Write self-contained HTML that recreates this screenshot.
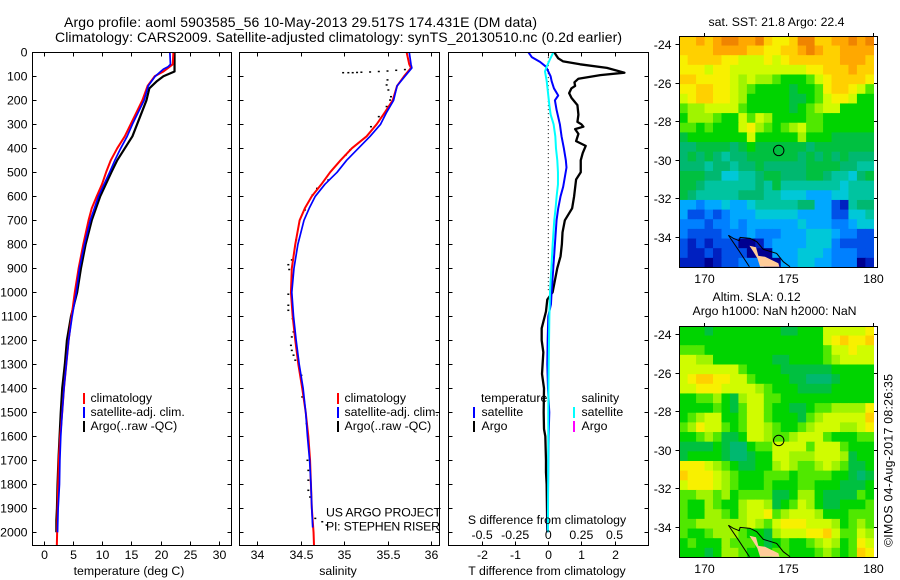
<!DOCTYPE html>
<html lang="en">
<head>
<meta charset="utf-8">
<title>Argo profile comparison</title>
<style>
html,body{margin:0;padding:0;background:#fff;}
svg{display:block;}
text{font-family:"Liberation Sans",sans-serif;font-size:12.3px;fill:#000;}
.title{font-size:14px;}
.mid{text-anchor:middle;}
.end{text-anchor:end;}
</style>
</head>
<body>
<svg id="chart" xmlns="http://www.w3.org/2000/svg" width="900" height="580" viewBox="0 0 900 580">
  <defs>
    <clipPath id="clip-sst"><rect x="679" y="36" width="195" height="231"/></clipPath>
    <clipPath id="clip-sla"><rect x="679" y="326" width="195" height="231"/></clipPath>
    <clipPath id="clip-temp"><rect x="32" y="52" width="200" height="494"/></clipPath>
    <clipPath id="clip-sal"><rect x="239" y="52" width="201" height="494"/></clipPath>
    <clipPath id="clip-diff"><rect x="448" y="52" width="201" height="494"/></clipPath>
  </defs>

  <text class="title" x="64" y="27" textLength="473">Argo profile: aoml 5903585_56 10-May-2013 29.517S 174.431E (DM data)</text>
  <text class="title" x="55" y="42" textLength="567">Climatology: CARS2009. Satellite-adjusted climatology: synTS_20130510.nc (0.2d earlier)</text>

  <g id="heatmaps"></g>
  <g id="plots"></g>
  <g id="axes"></g>

  <text class="mid" x="129" y="575">temperature (deg C)</text>
  <text class="mid" x="338" y="575">salinity</text>
  <text class="mid" x="547" y="575">T difference from climatology</text>
  <text class="mid" x="547" y="524">S difference from climatology</text>

  <g>
    <rect x="83" y="393" width="2" height="11" fill="#f00"/>
    <text x="90.5" y="402">climatology</text>
    <rect x="83" y="407" width="2" height="11" fill="#00f"/>
    <text x="90.5" y="416">satellite-adj. clim.</text>
    <rect x="83" y="421" width="2" height="11" fill="#000"/>
    <text x="90.5" y="430">Argo(..raw -QC)</text>
  </g>
  <g>
    <rect x="337" y="393" width="2" height="11" fill="#f00"/>
    <text x="344.5" y="402">climatology</text>
    <rect x="337" y="407" width="2" height="11" fill="#00f"/>
    <text x="344.5" y="416">satellite-adj. clim.</text>
    <rect x="337" y="421" width="2" height="11" fill="#000"/>
    <text x="344.5" y="430">Argo(..raw -QC)</text>
  </g>
  <g>
    <text x="481" y="402">temperature</text>
    <rect x="473" y="407" width="2" height="11" fill="#00f"/>
    <text x="481.5" y="416">satellite</text>
    <rect x="473" y="421" width="2" height="11" fill="#000"/>
    <text x="481.5" y="430">Argo</text>
    <text x="581.5" y="402">salinity</text>
    <rect x="573" y="407" width="2" height="11" fill="#0ff"/>
    <text x="581.5" y="416">satellite</text>
    <rect x="573" y="421" width="2" height="11" fill="#f0f"/>
    <text x="581.5" y="430">Argo</text>
  </g>

  <text x="326" y="516.5" textLength="115">US ARGO PROJECT</text>
  <text x="326" y="530.5" textLength="114">PI: STEPHEN RISER</text>

  <text class="mid" x="776.5" y="26">sat. SST: 21.8  Argo: 22.4</text>
  <text x="712.5" y="301">Altim. SLA: 0.12</text>
  <text x="692.5" y="315">Argo h1000: NaN h2000: NaN</text>
  <text transform="translate(892.5 547) rotate(-90)" textLength="173">©IMOS 04-Aug-2017 08:26:35</text>
</svg>

<script>
/* ---------- temperature profile data ---------- */
const tempArgoDepths = [0,80,100,120,150,200,250,300,350,400,450,500,600,700,800,900,1000,1100,1200,1300,1400,1500,1600,1700,1800,1900,1950,2000];
const tempArgo = [22.4,22.4,20.5,19.4,18.1,17.6,16.8,16,15.2,13.9,12.6,11.6,9.7,8.25,7.2,6.4,5.75,4.7,4,3.65,3.2,2.95,2.75,2.55,2.4,2.3,2.2,2.2];
const tempClimDepths = [0,50,65,80,100,140,200,250,300,350,400,450,500,550,600,650,700,800,900,1000,1100,1200,1300,1400,1500,1600,1700,1800,1900,2000,2054];
const tempClim = [22.2,22.1,21.3,20.5,19,17.8,16.9,15.9,14.9,13.9,12.6,11.5,10.7,10,9.1,8.25,7.7,6.8,6,5.35,4.8,4.3,3.9,3.5,3.2,2.85,2.6,2.5,2.4,2.33,2.28];
const tempSatDepths = [0,50,60,70,100,140,200,250,300,350,400,450,500,600,700,800,900,1000,1100,1200,1300,1400,1500,1600,1700,1800,1900,2000];
const tempSat = [21.6,21.7,21.3,20.5,19.1,17.9,17.2,16.2,15.2,14.3,13.2,12.2,11.3,9.4,8,7,6.15,5.6,4.9,4.3,3.9,3.5,3.2,2.95,2.8,2.73,2.5,2.4];

/* ---------- salinity profile data ---------- */
const salClimDepths = [0,50,65,100,140,200,250,300,350,400,450,500,550,600,650,700,800,900,1000,1100,1200,1300,1400,1500,1600,1700,1800,1900,2000,2054];
const salClim = [35.72,35.75,35.77,35.69,35.61,35.56,35.47,35.375,35.26,35.09,34.96,34.84,34.74,34.63,34.55,34.49,34.44,34.4,34.39,34.41,34.44,34.475,34.52,34.56,34.59,34.61,34.62,34.63,34.65,34.655];
const salSatDepths = [0,50,65,100,140,200,250,300,350,400,450,500,550,600,650,700,800,900,1000,1100,1200,1300,1400,1500,1600,1700,1800,1900,1980];
const salSat = [35.75,35.77,35.78,35.7,35.61,35.57,35.49,35.42,35.3,35.165,35.03,34.92,34.78,34.67,34.6,34.54,34.47,34.425,34.4,34.42,34.45,34.485,34.53,34.56,34.58,34.605,34.62,34.63,34.64];
const salArgoDepths = [85,85,85,84,83,82,80,78,75,72,115,136,157,185,199,226,268,310,407,428,532,567,594,657,782,865,885,905,1008,1054,1075,1110,1165,1186,1221,1242,1262,1283,1304,1346,1394,1436,1547,1700,1742,1783,1825,1853,1942,1956,1970];
const salArgo = [34.99,35.05,35.1,35.15,35.2,35.3,35.4,35.5,35.6,35.7,35.5,35.49,35.51,35.54,35.53,35.49,35.4,35.31,35.07,35.02,34.82,34.69,34.64,34.55,34.45,34.4,34.36,34.37,34.36,34.36,34.36,34.41,34.42,34.4,34.39,34.4,34.42,34.44,34.48,34.51,34.52,34.52,34.57,34.58,34.59,34.59,34.59,34.61,34.67,34.75,34.8];

/* ---------- difference profile data ---------- */
const diffTArgoDepths = [0,15,25,38,50,65,85,95,110,125,140,150,170,190,220,260,290,300,310,320,340,370,390,420,450,500,530,600,650,700,750,800,850,900,950,1000,1030,1080,1150,1200,1250,1340,1400,1500,1570,1600,1700,1750,1800,1900,2000];
const diffTArgo = [0.18,0.25,0.3,0.45,0.96,1.77,2.3,1.57,0.91,0.79,0.81,0.7,0.63,0.7,0.88,0.91,0.88,1,1.06,0.81,0.91,0.84,1.13,1.04,0.98,0.98,0.84,0.78,0.72,0.5,0.43,0.41,0.37,0.27,0.2,0.13,-0.03,-0.07,-0.2,-0.2,-0.15,-0.19,-0.13,-0.14,-0.13,-0.09,-0.07,-0.07,-0.05,-0.04,-0.03];
const diffTSatDepths = [0,20,40,60,100,120,150,180,200,240,300,350,400,450,480,520,560,600,650,700,800,900,1000,1050,1100,1200,1300,1400,1500,1600,1700,2000];
const diffTSat = [-0.6,-0.5,-0.25,-0.07,0.07,0.1,0.17,0.3,0.2,0.25,0.35,0.4,0.47,0.53,0.55,0.5,0.45,0.37,0.3,0.25,0.2,0.15,0.1,0.08,0,-0.02,-0.03,-0.01,0.03,0.01,0,-0.02];
const diffSSatDepths = [0,15,30,60,80,120,180,220,260,300,350,400,450,500,550,600,650,700,800,900,1000,1100,1300,1500,1700,2000];
const diffSSat = [0.038,0.025,0.012,-0.012,-0.025,-0.012,0,0.008,0.018,0.04,0.053,0.058,0.068,0.073,0.073,0.063,0.055,0.045,0.033,0.023,0.013,0.008,0.003,0,0,-0.003];
const diffZeroDepths = [20,1000];
const diffZero = [0,0];

/* ---------- tick values and labels ---------- */
const depthTicks = [0,100,200,300,400,500,600,700,800,900,1000,1100,1200,1300,1400,1500,1600,1700,1800,1900,2000];
const tempTicks = [0,5,10,15,20,25,30];
const salTicks = [34,34.5,35,35.5,36];
const salTickLabels = ['34','34.5','35','35.5','36'];
const diffTTicks = [-2,-1,0,1,2];
const diffTTickLabels = ['-2','-1','0','1','2'];
const diffSTicks = [-0.5,-0.25,0,0.25,0.5];
const diffSTickLabels = ['-0.5','-0.25','0','0.25','0.5'];
const latTicks = [-24,-26,-28,-30,-32,-34];
const lonTicks = [170,175,180];

/* ---------- profile location ---------- */
const argoLon = [174.431];
const argoLat = [-29.517];

/* ---------- map level grids: one char per 0.5 degree cell, north to south ---------- */
const levelChars = '0123456789abcdefg';
const sstGrid = [
 'eefef ggffg eddeg geeff gfg',
 'eeeef fffee ddeef gfeef fff',
 'deeee ddccc dcdee eeeef ffe',
 'dddcd dcccc ccccc ddeee fee',
 'eeddd dcbcb ba999 acdee eed',
 'ddeed dcba9 99989 9adee dca',
 'cdeed dcb99 99988 9acdd c99',
 'abbcc cca99 99989 abcc9 999',
 '9bbba 99cac b9999 aa999 999',
 'aa9a9 99cdb a9abc aa999 999',
 '89999 999c9 9999b 99988 888',
 '77888 87898 88888 78888 888',
 '78787 67788 88887 87878 777',
 '77767 76778 77777 88887 766',
 '88877 55667 88777 88766 578',
 '88766 66667 68666 66665 666',
 '87666 66777 66555 44455 666',
 '44344 54456 66667 74421 677',
 '42232 34445 55554 44422 556',
 '33323 34344 44445 44433 455',
 '32222 33343 33444 55543 322',
 '21212 22001 34444 55532 222',
 '21121 22200 04445 55433 322',
 '11101 22333 00445 54433 301'
];
const slaGrid = [
 '99989 99999 99889 99ccc ccd',
 '99999 99999 99999 99cde dde',
 'aaa99 99999 99999 99acc dcc',
 'ccbb9 99999 98899 99abc ccc',
 'ccccc cca99 99888 88899 999',
 'cdeed dcca9 99988 77789 999',
 'ccddd ccccb a9998 88899 999',
 '99aab 98bcc aa999 99999 999',
 '9999a 98acc a9988 9aabb bbd',
 '9abcc 99acc a9998 abccc cce',
 'abdcc a9acc ba99a bcccb bcd',
 '99aba 889cc baabc cca99 9aa',
 '88889 8779a acccc accca 999',
 '89999 87789 9ccbb bcccb 899',
 'dddcb a9889 9bcba abcba 889',
 'edddc ba999 aaa9a aaa99 878',
 'cdddc ba999 a999a a9998 889',
 'aabba b9aaa a889b b9888 8a9',
 'a99ba 99bcc b89ac b9889 99a',
 'a99bb a9bcc dabcc cb999 aaa',
 'aabbb bbbcb acddd cccb9 aba',
 'a99ab bba99 8bccc ddeca acb',
 '9a999 baaa9 89a99 abcb9 adc',
 '99989 bba99 9aa99 9aba9 aed'
];
const gridLonStart = [168.55];
const gridLatStart = [-23.58];
const gridStepDeg = [0.5];

/* ---------- coastline ---------- */
const coastNorthLon = [171.46,171.75,172.1,172.15,172.74,173.13,173.52,174.31,174.7,175.1];
const coastNorthLat = [-33.91,-34.07,-34.19,-34.02,-34.07,-34.24,-34.64,-34.85,-35.28,-35.54];
const coastWestLon = [171.46,172.05,172.7];
const coastWestLat = [-33.91,-34.67,-35.54];
const landLon = [172.7,173.09,173.23,173.62,174.41,174.47,173.33,173.17,172.93];
const landLat = [-34.45,-34.53,-34.98,-35.02,-35.36,-35.54,-35.54,-35.1,-34.76];

/* ---------- styling (not data) ---------- */
const paletteColors = ['#000090','#0020c0','#0050e8','#0080ff','#00a8ff','#00c8d8','#00c4a0','#00b870','#00c040','#00d400','#50e800','#a0f400','#d0fc00','#f8f000','#ffd000','#ffa800','#f08400'];

/* ---------- axis functions ---------- */
const PLOT_TOP = 52.5, PLOT_BOTTOM = 545.5;
function depthY(d){ return 52.3 + d * 0.24; }
function tempX(v){ return 43.5 + v * 5.85; }
function salX(v){ return 257 + (v - 34) * 87; }
function diffTX(v){ return 548.3 + v * 33.1; }
function diffSX(v){ return 548.3 + v * 132.4; }
function lonX(lon){ return 703.7 + (lon - 170) * 16.93; }
function latY(lat, mapTop){ return mapTop + 8 + (-24 - lat) * 19.3; }

const SVG_NS = 'http://www.w3.org/2000/svg';
const heatLayer = document.getElementById('heatmaps');
const plotLayer = document.getElementById('plots');
const axisLayer = document.getElementById('axes');

function make(tag, attrs, parent){
  const node = document.createElementNS(SVG_NS, tag);
  Object.keys(attrs).forEach(function(k){ node.setAttribute(k, attrs[k]); });
  parent.appendChild(node);
  return node;
}
function linePoints(xs, ys){
  return xs.map(function(x, i){ return x.toFixed(2) + ',' + ys[i].toFixed(2); }).join(' ');
}
function profileLine(values, depths, xFn, color, width, clip, dash){
  const attrs = {
    points: linePoints(values.map(xFn), depths.map(depthY)),
    fill: 'none', stroke: color, 'stroke-width': width,
    'clip-path': 'url(#' + clip + ')', 'stroke-linejoin': 'round'
  };
  if (dash) attrs['stroke-dasharray'] = dash;
  return make('polyline', attrs, plotLayer);
}
function tickLine(x1, y1, x2, y2){
  return make('line', {x1:x1, y1:y1, x2:x2, y2:y2, stroke:'#000', 'stroke-width':1, 'shape-rendering':'crispEdges'}, axisLayer);
}
function label(x, y, str, cls){
  const t = make('text', {x:x, y:y, 'class':cls}, axisLayer);
  t.textContent = str;
  return t;
}

/* ---------- heatmaps ---------- */
function drawGrid(grid, mapTop, clip, group){
  grid.forEach(function(row, r){
    const cells = row.replace(/ /g, '');
    for (let c = 0; c < cells.length; c++){
      const lon0 = gridLonStart[0] + c * gridStepDeg[0];
      const lat0 = gridLatStart[0] - r * gridStepDeg[0];
      const x0 = lonX(lon0), x1 = lonX(lon0 + gridStepDeg[0]);
      const y0 = latY(lat0, mapTop), y1 = latY(lat0 - gridStepDeg[0], mapTop);
      const cell = make('rect', {
        x:x0.toFixed(2), y:y0.toFixed(2),
        width:(x1 - x0 + 0.6).toFixed(2), height:(y1 - y0 + 0.6).toFixed(2),
        fill:paletteColors[levelChars.indexOf(cells[c])],
        'clip-path':'url(#' + clip + ')'
      }, group);
      
      
    }
  });
}
function drawOverlay(mapTop, clip, group){
  const yOf = function(lat){ return latY(lat, mapTop); };
  const land = make('polygon', {points:linePoints(landLon.map(lonX), landLat.map(yOf)), fill:'#ffcc99', 'clip-path':'url(#' + clip + ')'}, group);
  
  
  const north = make('polyline', {points:linePoints(coastNorthLon.map(lonX), coastNorthLat.map(yOf)), fill:'none', stroke:'#000', 'stroke-width':1, 'clip-path':'url(#' + clip + ')'}, group);
  
  
  const west = make('polyline', {points:linePoints(coastWestLon.map(lonX), coastWestLat.map(yOf)), fill:'none', stroke:'#000', 'stroke-width':1, 'clip-path':'url(#' + clip + ')'}, group);
  
  
  const marker = make('circle', {cx:lonX(argoLon[0]), cy:yOf(argoLat[0]), r:5.2, fill:'none', stroke:'#000', 'stroke-width':1}, group);
  
  
}
function drawMapFrame(mapTop){
  const frame = make('rect', {x:679.5, y:mapTop + 0.5, width:198, height:231, fill:'none', stroke:'#000', 'stroke-width':1, 'shape-rendering':'crispEdges'}, axisLayer);
  
  
  latTicks.forEach(function(lat){
    const y = Math.round(latY(lat, mapTop)) + 0.5;
    const left = tickLine(675.5, y, 679.5, y);
    
    
    const right = tickLine(874, y, 877.5, y);
    
    
    const txt = label(671.5, y + 4.5, String(lat), 'end');
    
    
  });
  lonTicks.forEach(function(lon){
    const x = Math.round(lonX(lon)) + 0.5;
    const top = tickLine(x, mapTop - 3, x, mapTop + 0.5);
    
    
    const txt = label(x, mapTop + 247, String(lon), 'mid');
    
    
  });
}

const sstGroup = make('g', {}, heatLayer);


drawGrid(sstGrid, 36, 'clip-sst', sstGroup);
drawOverlay(36, 'clip-sst', sstGroup);

const slaGroup = make('g', {}, heatLayer);


drawGrid(slaGrid, 326, 'clip-sla', slaGroup);
drawOverlay(326, 'clip-sla', slaGroup);

drawMapFrame(36);
drawMapFrame(326);

/* ---------- profile lines ---------- */
const l1 = profileLine(tempArgo, tempArgoDepths, tempX, '#000', 2.2, 'clip-temp');


const l2 = profileLine(tempClim, tempClimDepths, tempX, '#f00', 2, 'clip-temp');


const l3 = profileLine(tempSat, tempSatDepths, tempX, '#00f', 1.7, 'clip-temp');



salArgo.forEach(function(v, i){
  const dot = make('rect', {x:(salX(v) - 1).toFixed(2), y:(depthY(salArgoDepths[i]) - 0.75).toFixed(2), width:2, height:1.5, fill:'#000', 'clip-path':'url(#clip-sal)'}, plotLayer);
  
  
});
const l4 = profileLine(salClim, salClimDepths, salX, '#f00', 2, 'clip-sal');


const l5 = profileLine(salSat, salSatDepths, salX, '#00f', 1.7, 'clip-sal');



const l6 = profileLine(diffZero, diffZeroDepths, diffTX, '#000', 1, 'clip-diff', '1 3');


const l7 = profileLine(diffTArgo, diffTArgoDepths, diffTX, '#000', 2.3, 'clip-diff');


const l8 = profileLine(diffTSat, diffTSatDepths, diffTX, '#00f', 2, 'clip-diff');


const l9 = profileLine(diffSSat, diffSSatDepths, diffSX, '#0ff', 2, 'clip-diff');



/* ---------- plot frames and ticks ---------- */
function drawFrame(x0, x1){
  const r = make('rect', {x:x0, y:PLOT_TOP, width:x1 - x0, height:PLOT_BOTTOM - PLOT_TOP, fill:'none', stroke:'#000', 'stroke-width':1, 'shape-rendering':'crispEdges'}, axisLayer);
  
  
  depthTicks.forEach(function(d){
    const y = Math.round(depthY(d)) + 0.5;
    const a = tickLine(x0, y, x0 + 4, y);
    
    
    const b = tickLine(x1 - 4, y, x1, y);
    
    
  });
}
function drawXTicks(ticks, labels, xFn){
  ticks.forEach(function(v, i){
    const x = Math.round(xFn(v)) + 0.5;
    const a = tickLine(x, PLOT_TOP, x, PLOT_TOP + 4);
    
    
    const b = tickLine(x, PLOT_BOTTOM - 4, x, PLOT_BOTTOM);
    
    
    const t = label(x, 559, labels[i], 'mid');
    
    
  });
}
drawFrame(32.5, 231.5);
drawFrame(239.5, 439.5);
drawFrame(448.5, 648.5);
depthTicks.forEach(function(d){
  const t = label(27.5, Math.round(depthY(d)) + 4.5, String(d), 'end');
  
  
});
drawXTicks(tempTicks, tempTicks.map(String), tempX);
drawXTicks(salTicks, salTickLabels, salX);
drawXTicks(diffTTicks, diffTTickLabels, diffTX);
diffSTicks.forEach(function(v, i){
  const t = label(diffSX(v), 539, diffSTickLabels[i], 'mid');
  
  
});
</script>
</body>
</html>
